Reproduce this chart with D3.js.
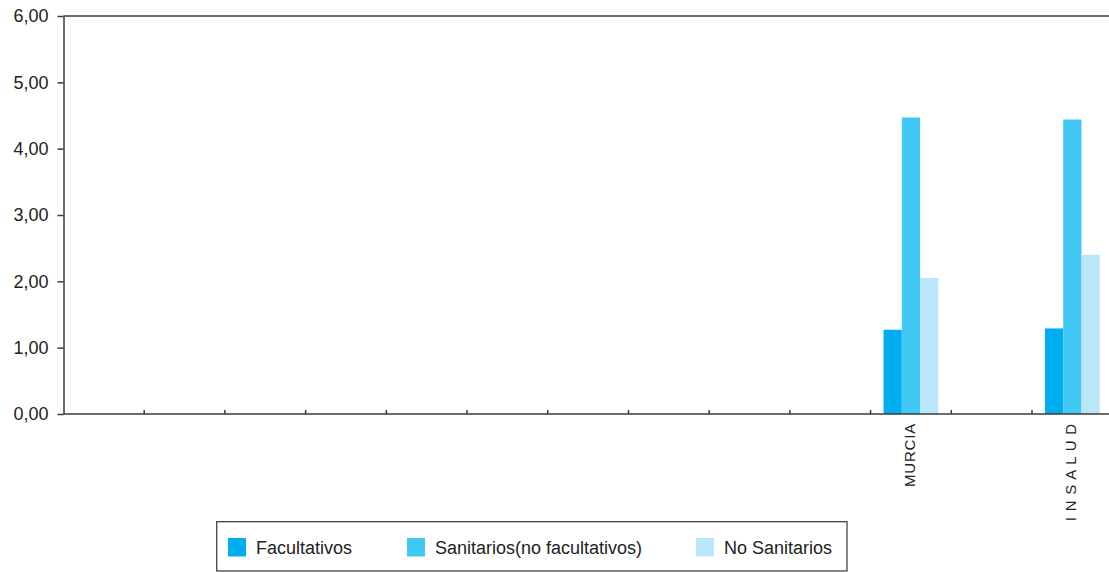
<!DOCTYPE html>
<html>
<head>
<meta charset="utf-8">
<script src="https://cdn.jsdelivr.net/npm/d3@7"></script>
<style>
  html, body { margin: 0; padding: 0; background: #fff; }
  svg { display: block; font-family: "Liberation Sans", Arial, sans-serif; }
</style>
</head>
<body>
<svg id="chart" width="1109" height="572"></svg>
<script>
// ---- data ----
const categories = ["", "", "", "", "", "", "", "", "", "", "MURCIA", "", "I N S A L U D"];
const seriesNames = ["Facultativos", "Sanitarios(no facultativos)", "No Sanitarios"];
const facultativos = [null, null, null, null, null, null, null, null, null, null, 1.27, null, 1.29];
const sanitarios   = [null, null, null, null, null, null, null, null, null, null, 4.47, null, 4.44];
const noSanitarios = [null, null, null, null, null, null, null, null, null, null, 2.05, null, 2.40];
const yTicks = [0, 1, 2, 3, 4, 5, 6];
const colors = ["#00AEEF", "#41C8F5", "#BAE6F9"];

const seriesValues = [facultativos, sanitarios, noSanitarios];

// ---- layout ----
const svg = d3.select("#chart");
const mLeft = 63.5, mRight = 1112.7, mTop = 16, mBottom = 414;

const x = d3.scaleBand()
  .domain(categories.map((d, i) => i))
  .range([mLeft, mRight])
  .padding(0);

const x1 = d3.scaleBand()
  .domain(seriesNames)
  .range([0, x.bandwidth()])
  .paddingInner(0)
  .paddingOuter(0.71);

const y = d3.scaleLinear().domain([0, 6]).range([mBottom, mTop]);

const axisColor = "#3a3a3a";

// top gridline at max
svg.append("line")
  .attr("x1", mLeft).attr("x2", 1109)
  .attr("y1", y(6)).attr("y2", y(6))
  .attr("stroke", axisColor).attr("stroke-width", 1.5);

// bars
seriesNames.forEach((s, si) => {
  svg.append("g").selectAll("rect")
    .data(seriesValues[si].map((v, i) => ({ v, i })).filter(d => d.v != null))
    .join("rect")
    .attr("x", d => x(d.i) + x1(s))
    .attr("width", x1.bandwidth())
    .attr("y", d => y(d.v))
    .attr("height", d => y(0) - y(d.v))
    .attr("fill", colors[si]);
});

// y axis
const yAxis = svg.append("g")
  .attr("transform", `translate(${mLeft},0)`)
  .call(d3.axisLeft(y).tickValues(yTicks).tickSize(6).tickSizeOuter(0).tickPadding(9)
    .tickFormat(d => d3.format(".2f")(d).replace(".", ",")));
yAxis.select(".domain").attr("stroke", axisColor).attr("stroke-width", 1.5);
yAxis.selectAll(".tick line").attr("stroke", axisColor).attr("stroke-width", 1.5);
yAxis.selectAll(".tick text")
  .attr("font-size", "18px").attr("fill", "#222")
  .attr("font-family", "Liberation Sans, Arial, sans-serif");

// x axis
const xAxisG = svg.append("g").attr("transform", `translate(0,${mBottom})`);
xAxisG.append("line")
  .attr("x1", mLeft).attr("x2", 1109)
  .attr("y1", 0).attr("y2", 0)
  .attr("stroke", axisColor).attr("stroke-width", 1.5);
// tick marks at band boundaries (pointing up)
xAxisG.selectAll("line.tk")
  .data(categories.map((d, i) => i).filter(i => i > 0))
  .join("line")
  .attr("class", "tk")
  .attr("x1", i => x(i)).attr("x2", i => x(i))
  .attr("y1", 0).attr("y2", -4)
  .attr("stroke", axisColor).attr("stroke-width", 1.5);

// category labels (rotated)
xAxisG.selectAll("text.cat")
  .data(categories.map((c, i) => ({ c, i })).filter(d => d.c !== ""))
  .join("text")
  .attr("class", "cat")
  .attr("transform", d => `translate(${x(d.i) + x.bandwidth() / 2 + 4},9) rotate(-90)`)
  .attr("text-anchor", "end")
  .attr("font-size", "15px")
  .attr("letter-spacing", "0.8px")
  .attr("fill", "#222")
  .text(d => d.c);

// legend
const lg = svg.append("g");
lg.append("rect")
  .attr("x", 216.7).attr("y", 521.7)
  .attr("width", 630.3).attr("height", 49.3)
  .attr("fill", "#fff").attr("stroke", "#444").attr("stroke-width", 1.3);
const legendX = [228, 407, 696];
seriesNames.forEach((s, si) => {
  lg.append("rect")
    .attr("x", legendX[si]).attr("y", 538)
    .attr("width", 18).attr("height", 18.5)
    .attr("fill", colors[si]);
  lg.append("text")
    .attr("x", legendX[si] + 28).attr("y", 553.5)
    .attr("font-size", "18px").attr("fill", "#222")
    .text(s);
});
</script>
</body>
</html>
